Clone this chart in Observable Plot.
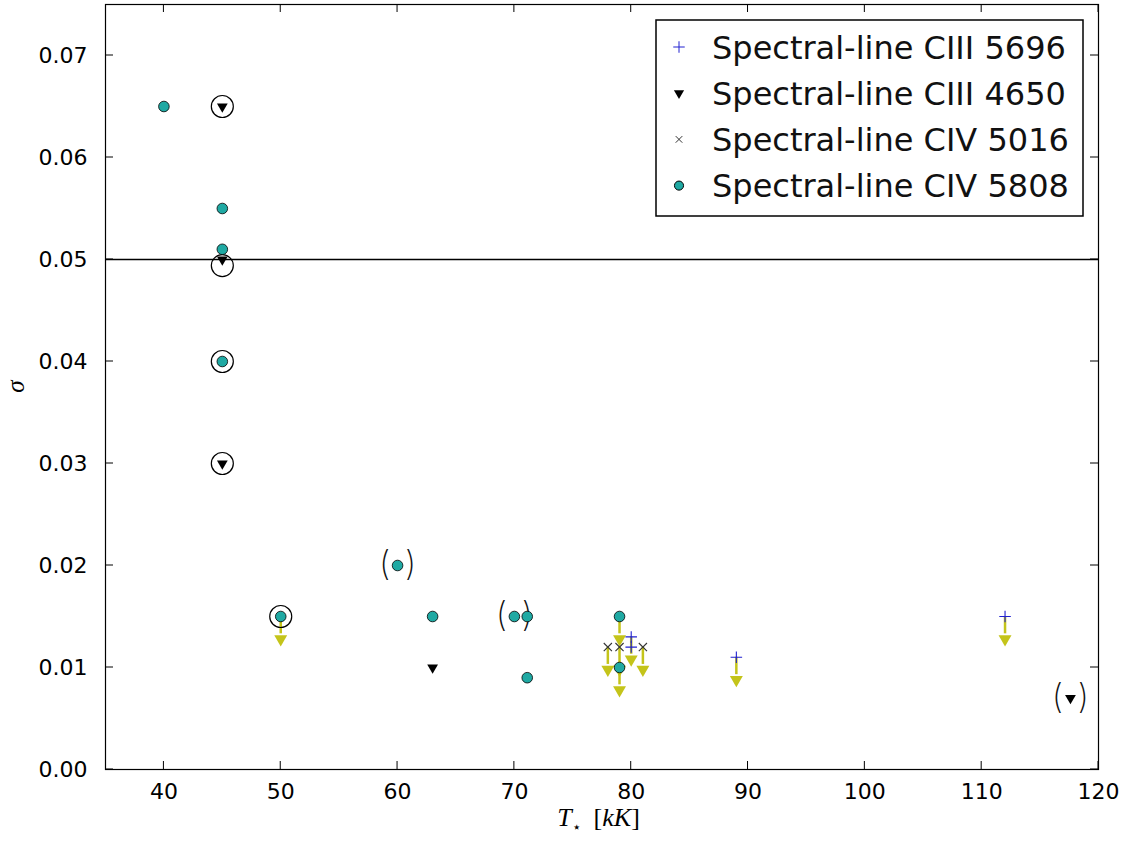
<!DOCTYPE html>
<html><head><meta charset="utf-8">
<script src="https://cdn.jsdelivr.net/npm/d3@7"></script>
<script src="https://cdn.jsdelivr.net/npm/@observablehq/plot@0.6"></script>
<style>
body{margin:0;background:#fff;}
#wrap{position:relative;width:1124px;height:845px;}
</style></head><body><div id="wrap"></div>
<script>
// ---- data ----
const xTicks = [40, 50, 60, 70, 80, 90, 100, 110, 120];
const yTicks = [0, 0.01, 0.02, 0.03, 0.04, 0.05, 0.06, 0.07];
const seriesNames = ["Spectral-line CIII 5696", "Spectral-line CIII 4650", "Spectral-line CIV 5016", "Spectral-line CIV 5808"];
const ciii5696 = [[80, 0.013], [80, 0.012], [89, 0.011], [112, 0.015]];
const ciii4650 = [[45, 0.065], [45, 0.050], [45, 0.030], [63, 0.010], [117.6, 0.007]];
const civ5016 = [[78, 0.012], [79, 0.012], [81, 0.012]];
const civ5808 = [[40, 0.065], [45, 0.055], [45, 0.051], [45, 0.040], [50, 0.015], [60, 0.020], [63, 0.015], [70, 0.015], [71.1, 0.015], [71.1, 0.009], [79, 0.015], [79, 0.010]];
const upperLimits = [[50, 0.015], [79, 0.015], [78, 0.012], [79, 0.012], [80, 0.013], [81, 0.012], [79, 0.010], [89, 0.011], [112, 0.015]];
const circled = [[45, 0.065], [45, 0.0494], [45, 0.040], [45, 0.030], [50, 0.015]];
const bracketed = [[60, 0.020], [70, 0.015], [117.6, 0.007]];
const refLine = [0.05];
const arrowLen = 0.0022;

const teal = "#1fa9a3", yellow = "#c4c41a", blue = "#2020d0";

function frameTicks(index, scales, values, dimensions) {
  const {x, y} = scales;
  const {width, height, marginLeft, marginRight, marginTop, marginBottom} = dimensions;
  const L = marginLeft, R = width - marginRight, T = marginTop, B = height - marginBottom, len = 8;
  const g = d3.create("svg:g");
  const t = g.append("g").attr("stroke", "black").attr("stroke-width", 1).attr("fill", "none");
  for (const v of xTicks) {
    const px = x(v);
    t.append("line").attr("x1", px).attr("x2", px).attr("y1", B).attr("y2", B - len);
    t.append("line").attr("x1", px).attr("x2", px).attr("y1", T).attr("y2", T + len);
  }
  for (const v of yTicks) {
    const py = y(v);
    t.append("line").attr("x1", L).attr("x2", L + len).attr("y1", py).attr("y2", py);
    t.append("line").attr("x1", R).attr("x2", R - len).attr("y1", py).attr("y2", py);
  }
  // x label: T_star [kK]
  const xl = g.append("text").attr("x", (L + R) / 2 - 3).attr("y", B + 57).attr("text-anchor", "middle")
    .attr("font-family", "Liberation Serif").attr("font-size", 26).attr("fill", "black");
  xl.append("tspan").attr("font-style", "italic").text("T");
  xl.append("tspan").attr("font-size", 15).attr("dy", 6).text("\u22C6");
  xl.append("tspan").attr("dy", -6).text("\u2002[");
  xl.append("tspan").attr("font-style", "italic").text("kK");
  xl.append("tspan").text("]");
  // y label
  g.append("text").attr("transform", `translate(24,${(T + B) / 2}) rotate(-90)`).attr("text-anchor", "middle")
    .attr("font-family", "Liberation Serif").attr("font-style", "italic").attr("font-size", 25).attr("fill", "black").text("\u03C3");
  return g.node();
}

const X = d => d[0], Y = d => d[1];

const plot = Plot.plot({
  width: 1124, height: 845,
  marginLeft: 105, marginRight: 26, marginTop: 4, marginBottom: 76,
  style: {fontFamily: "DejaVu Sans", background: "white", color: "black"},
  x: {domain: [35, 120]},
  y: {domain: [0, 0.075]},
  marks: [
    Plot.axisX(xTicks, {tickSize: 0, tickPadding: 14, fontSize: 22, label: null}),
    Plot.axisY(yTicks, {tickSize: 0, tickPadding: 18, fontSize: 22, tickFormat: d3.format(".2f"), label: null}),
    Plot.ruleY(refLine, {stroke: "black", strokeWidth: 1.3}),
    Plot.ruleX(upperLimits, {x: X, y1: Y, y2: d => d[1] - arrowLen + 0.0005, stroke: yellow, strokeWidth: 2.5}),
    Plot.dot(upperLimits, {x: X, y: d => d[1] - arrowLen, symbol: "triangle", rotate: 180, fill: yellow, r: 4.8}),
    Plot.dot(circled, {x: X, y: Y, r: 11, stroke: "black", strokeWidth: 1.2, fill: "none"}),
    Plot.text(bracketed, {x: X, y: Y, text: () => "(", dx: -13, dy: -1, fontSize: 34, fontFamily: "Inter", fontWeight: 200, fill: "#111"}),
    Plot.text(bracketed, {x: X, y: Y, text: () => ")", dx: 13, dy: -1, fontSize: 34, fontFamily: "Inter", fontWeight: 200, fill: "#111"}),
    Plot.dot(civ5808, {x: X, y: Y, r: 5.3, fill: teal, stroke: "black", strokeWidth: 0.8}),
    Plot.dot(ciii4650, {x: X, y: Y, symbol: "triangle", rotate: 180, r: 4, fill: "black"}),
    Plot.dot(civ5016, {x: X, y: Y, symbol: "times", r: 3.8, stroke: "#333", strokeWidth: 1.1}),
    Plot.dot(ciii5696, {x: X, y: Y, symbol: "plus", r: 3.8, stroke: blue, strokeWidth: 1.1}),
    Plot.frame({stroke: "black", strokeWidth: 1.2}),
    frameTicks
  ]
});
document.getElementById("wrap").appendChild(plot);

// ---- legend ----
const svg = d3.select(plot);
const lg = svg.append("g").attr("transform", "translate(656,20)").attr("text-anchor", "start");
lg.append("rect").attr("width", 427).attr("height", 196).attr("fill", "white").attr("stroke", "black").attr("stroke-width", 1.5);
const legendSymbols = [
  {type: d3.symbolPlus, size: 45, fill: "none", stroke: blue},
  {type: d3.symbolTriangle, size: 45, fill: "black", stroke: "none", rotate: 180},
  {type: d3.symbolTimes, size: 30, fill: "none", stroke: "#333"},
  {type: d3.symbolCircle, size: 65, fill: teal, stroke: "black"}
];
seriesNames.forEach((name, i) => {
  const cy = 27 + i * 46.2;
  const s = legendSymbols[i];
  lg.append("path").attr("d", d3.symbol(s.type, s.size)())
    .attr("transform", `translate(23,${cy})${s.rotate ? " rotate(180)" : ""}`)
    .attr("fill", s.fill).attr("stroke", s.stroke).attr("stroke-width", 1);
  lg.append("text").attr("x", 56).attr("y", cy).attr("dy", "0.36em").attr("text-anchor", "start")
    .attr("font-family", "DejaVu Sans").attr("font-size", 32).attr("fill", "#111").text(name);
});
</script>
</body></html>
